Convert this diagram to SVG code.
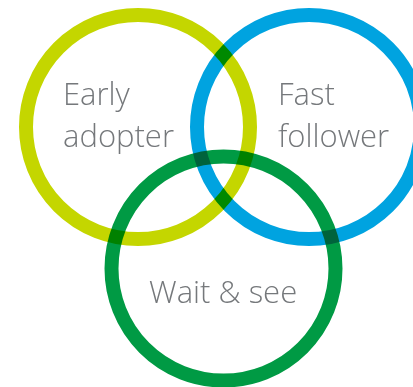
<svg xmlns="http://www.w3.org/2000/svg" width="413" height="387" viewBox="0 0 413 387">
  <style>
    .ring { fill: none; stroke-width: 14; mix-blend-mode: multiply; }
    .label { font-family: "Open Sans", "Liberation Sans", sans-serif; font-weight: 300; font-size: 31px; fill: #75787B; }
  </style>
  <rect width="413" height="387" fill="#FFFFFF"/>
  <g id="early-adopter">
    <circle class="ring" cx="138" cy="127" r="112" stroke="#C4D600"/>
  </g>
  <g id="fast-follower">
    <circle class="ring" cx="309" cy="127" r="112" stroke="#00A3E0"/>
  </g>
  <g id="wait-and-see">
    <circle class="ring" cx="223.5" cy="268.5" r="112" stroke="#009A44"/>
  </g>
  <g id="labels">
    <text class="label" x="63" y="105">Early</text>
    <text class="label" x="63" y="146.7">adopter</text>
    <text class="label" x="278" y="105">Fast</text>
    <text class="label" x="278" y="146.7">follower</text>
    <text class="label" x="149" y="303.3">Wait &amp; see</text>
  </g>
</svg>
